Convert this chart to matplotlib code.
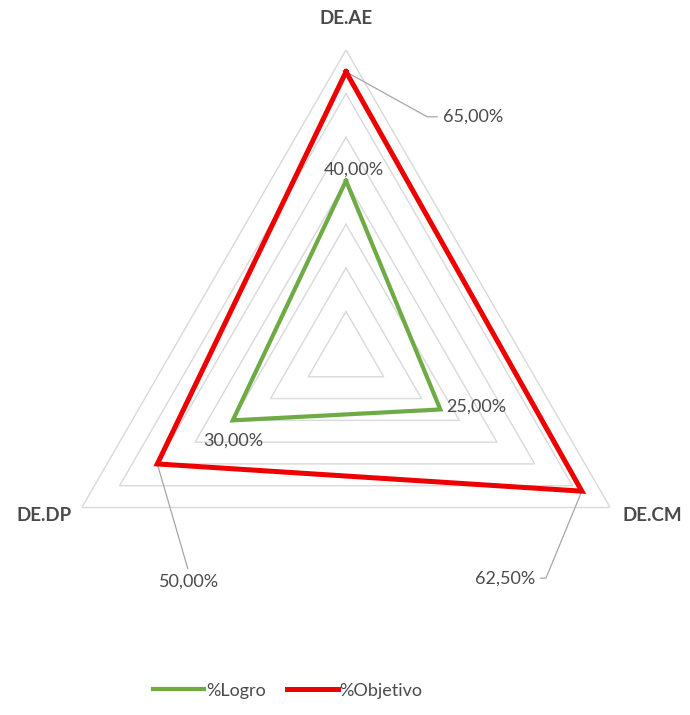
import numpy as np
import matplotlib
matplotlib.use("Agg")
import matplotlib.pyplot as plt

# Radar data
categories = ["DE.AE", "DE.CM", "DE.DP"]
logro = [0.40, 0.25, 0.30]
objetivo = [0.65, 0.625, 0.50]
grid_levels = [0.1, 0.2, 0.3, 0.4, 0.5, 0.6, 0.7]
series_names = ["%Logro", "%Objetivo"]

GREEN = "#6EAA45"
RED = "#EE0000"
GRID = "#D9D9D9"
TEXT = "#4A4A4A"
LEADER = "#A6A6A6"

plt.rcParams["font.family"] = ["Lato", "DejaVu Sans"]

fig = plt.figure(figsize=(6.9, 7.15), dpi=100)
ax = fig.add_axes([41 / 690, 55 / 715, 610 / 690, 610 / 715], projection="polar")
ax.set_theta_offset(np.pi / 2)
ax.set_theta_direction(-1)
ax.set_ylim(0, grid_levels[-1])
ax.grid(False)
ax.spines["polar"].set_visible(False)
ax.set_xticks([])
ax.set_yticks([])

n = len(categories)
theta = np.arange(n) * 2 * np.pi / n
theta_c = np.append(theta, theta[0])

# triangular grid
for lv in grid_levels:
    ax.plot(theta_c, [lv] * (n + 1), color=GRID, lw=1.0, zorder=1)

def closed(v):
    return list(v) + [v[0]]

ax.plot(theta_c, closed(logro), color=GREEN, lw=3.0, solid_joinstyle="miter",
        label=series_names[0], zorder=3)
ax.plot(theta_c, closed(objetivo), color=RED, lw=3.6, solid_joinstyle="miter",
        label=series_names[1], zorder=4)

def pct(v):
    return f"{v * 100:.2f}%".replace(".", ",")

fs = 13

# category labels
cat_offsets = [((0, 32), "center", "center"),
               ((12, -8), "left", "center"),
               ((-10, -8), "right", "center")]
for t, name, (off, ha, va) in zip(theta, categories, cat_offsets):
    ax.annotate(name, xy=(t, grid_levels[-1]), xytext=off, textcoords="offset pixels",
                ha=ha, va=va, fontsize=13.5, fontweight="bold", color=TEXT,
                annotation_clip=False)

# %Logro labels
logro_offsets = [((8, 11), "center", "center"),
                 ((6, 3), "left", "center"),
                 ((0, -20), "center", "center")]
for t, v, (off, ha, va) in zip(theta, logro, logro_offsets):
    ax.annotate(pct(v), xy=(t, v), xytext=off, textcoords="offset pixels",
                ha=ha, va=va, fontsize=fs, color=TEXT, zorder=6,
                annotation_clip=False)

# %Objetivo labels with leader lines
obj_specs = [
    ((97, -45), "left", "center", dict(connectionstyle="angle,angleA=0,angleB=151,rad=0",
                                       relpos=(0, 0.5))),
    ((-47, -87), "right", "center", dict(connectionstyle="angle,angleA=0,angleB=67.6,rad=0",
                                          relpos=(1, 0.5))),
    ((32, -118), "center", "center", dict(connectionstyle="arc3", relpos=(0.5, 1))),
]
for t, v, (off, ha, va, conn) in zip(theta, objetivo, obj_specs):
    ax.annotate(pct(v), xy=(t, v), xytext=off, textcoords="offset pixels",
                ha=ha, va=va, fontsize=fs, color=TEXT, annotation_clip=False,
                arrowprops=dict(arrowstyle="-", color=LEADER, lw=0.9,
                                shrinkA=2, shrinkB=1, **conn))

handles, labels = ax.get_legend_handles_labels()
fig.legend(handles, labels, loc="lower center", bbox_to_anchor=(288 / 690, 0.0),
           ncol=2, frameon=False, fontsize=13, handlelength=2.8,
           handletextpad=0.1, columnspacing=1.2, labelcolor=TEXT)

fig.savefig("out.png", dpi=100, facecolor="white")
